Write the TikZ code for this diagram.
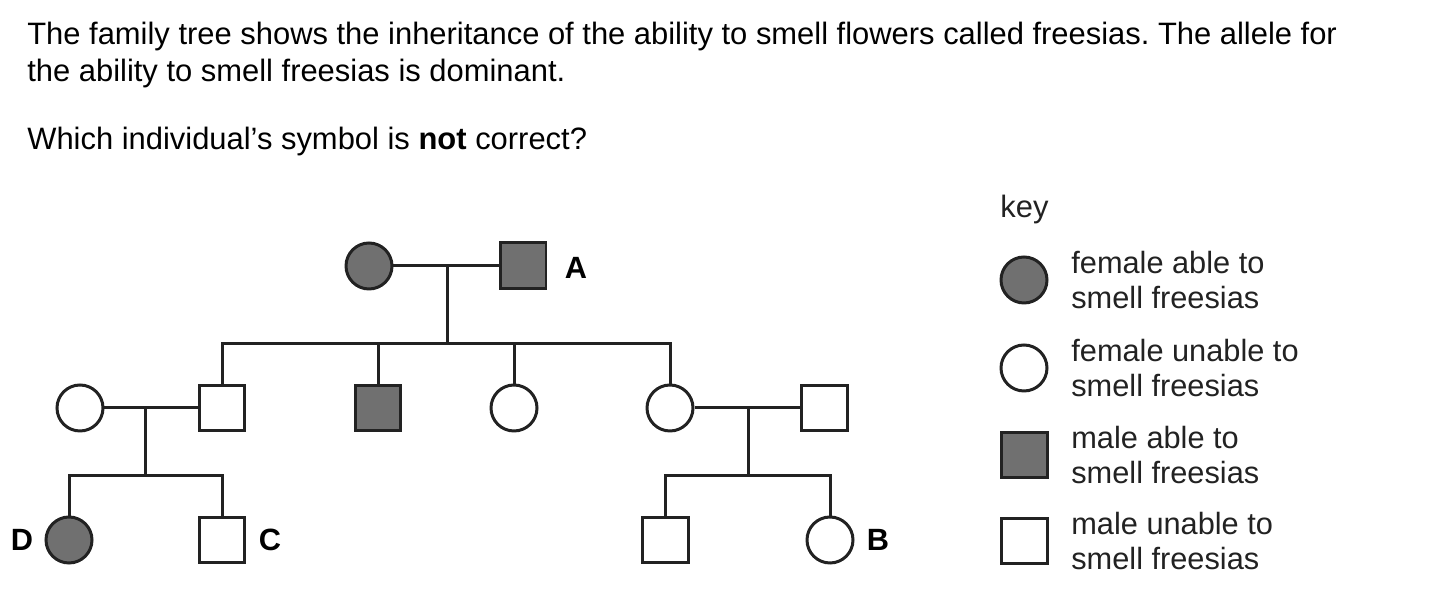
\documentclass[tikz,border=0pt]{standalone}
\usepackage{fontspec}
\setmainfont{Liberation Sans}
\usetikzlibrary{positioning}
\definecolor{ink}{HTML}{222222}
\definecolor{shade}{HTML}{707070}
\tikzset{
  fem/.style={circle,draw=ink,line width=0.06cm,minimum size=0.92cm,inner sep=0pt},
  mal/.style={rectangle,draw=ink,line width=0.06cm,minimum size=0.92cm,inner sep=0pt},
  able/.style={fill=shade},
  link/.style={draw=ink,line width=0.06cm},
  lbl/.style={font=\fontsize{17.5}{20}\selectfont\bfseries,inner sep=0pt},
  txt/.style={anchor=base west,inner sep=0pt,font=\fontsize{17.6}{20}\selectfont},
  keytxt/.style={anchor=west,align=left,inner sep=0pt,text=ink,font=\fontsize{17.5}{19.8}\selectfont}
}
\frenchspacing

\begin{document}
\begin{tikzpicture}[x=0.02cm,y=-0.02cm]
  \useasboundingbox (0,0) rectangle (1448,597);
  % question
  \node[txt] (q1) at (27,45) {The family tree shows the inheritance of the ability to smell flowers called freesias. The allele for};
  \node[txt] (q2) at (27,82) {the ability to smell freesias is dominant.};
  \node[txt] (q3) at (27,150) {Which individual’s symbol is \textbf{not} correct?};

  % first generation
  \node[fem,able] (g11) at (369,266) {};
  \node[mal,able] (g12) at (523,266) {};
  \node[lbl] (la) at (576,268) {A};
  \draw[link] (g11) -- (g12);
  \coordinate (u1) at (447,266);
  \coordinate (s1) at (447,344);
  \draw[link] (u1) -- (s1);

  % second generation
  \node[fem] (w21) at (80,408) {};
  \node[mal] (g21) at (222,408) {};
  \node[mal,able] (g22) at (378,408) {};
  \node[fem] (g23) at (514,408) {};
  \node[fem] (g24) at (670,408) {};
  \node[mal] (h24) at (824,408) {};
  \draw[link] (g21.north) -- (g21.north |- s1) -- (g24.north |- s1) -- (g24.north);
  \draw[link] (g22.north) -- (g22.north |- s1);
  \draw[link] (g23.north) -- (g23.north |- s1);
  \draw[link] (w21) -- (g21);
  \draw[link] (g24) -- (h24);
  \coordinate (u2) at (145,408);
  \coordinate (s2) at (145,476);
  \draw[link] (u2) -- (s2);
  \coordinate (u3) at (748,408);
  \coordinate (s3) at (748,476);
  \draw[link] (u3) -- (s3);

  % third generation
  \node[fem,able] (g31) at (69,540) {};
  \node[mal] (g32) at (222,540) {};
  \node[mal] (g33) at (665,540) {};
  \node[fem] (g34) at (830,540) {};
  \node[lbl] (ld) at (22,540) {D};
  \node[lbl] (lc) at (270,540) {C};
  \node[lbl] (lb) at (878,540) {B};
  \draw[link] (g31.north) -- (g31.north |- s2) -- (g32.north |- s2) -- (g32.north);
  \draw[link] (g33.north) -- (g33.north |- s3) -- (g34.north |- s3) -- (g34.north);

  % key
  \node[txt,text=ink] (key) at (1000,218) {key};
  \node[fem,able] (k1) at (1024,280) {};
  \node[fem] (k2) at (1024,368) {};
  \node[mal,able] (k3) at (1024,455) {};
  \node[mal] (k4) at (1024,541) {};
  \node[keytxt] (k1t) at (1071,280) {female able to\\smell freesias};
  \node[keytxt] (k2t) at (1071,368) {female unable to\\smell freesias};
  \node[keytxt] (k3t) at (1071,455) {male able to\\smell freesias};
  \node[keytxt] (k4t) at (1071,541) {male unable to\\smell freesias};
\end{tikzpicture}
\end{document}
